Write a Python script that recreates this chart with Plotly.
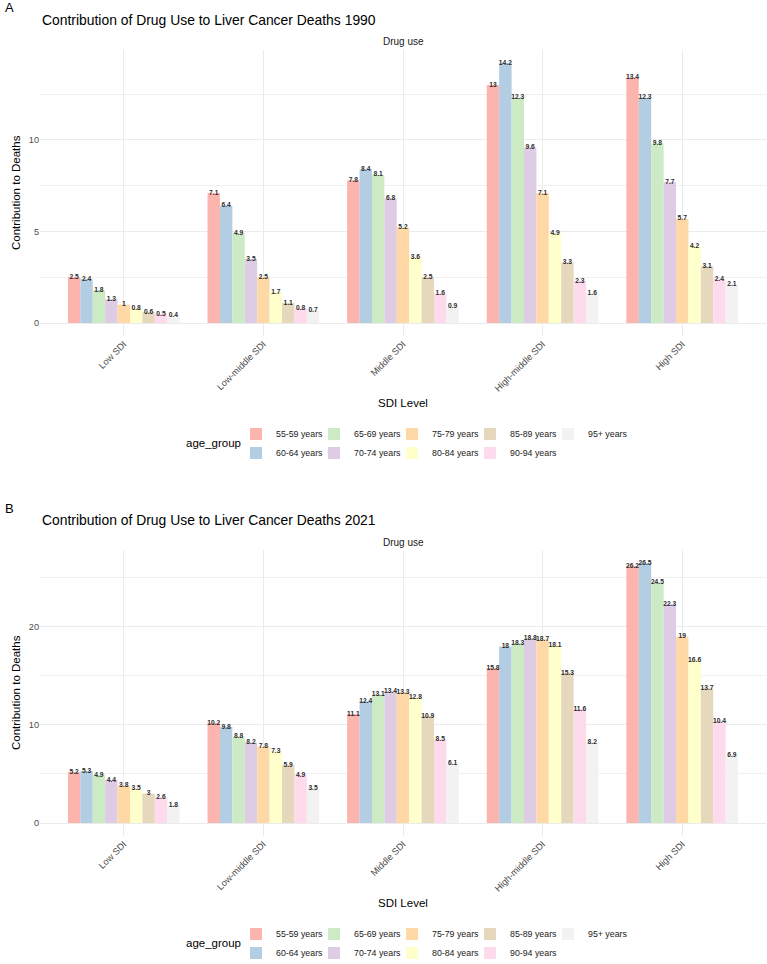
import plotly.graph_objects as go

# ---------------- data ----------------
sdi_levels = ["Low SDI", "Low-middle SDI", "Middle SDI", "High-middle SDI", "High SDI"]
age_groups = ["55-59 years", "60-64 years", "65-69 years", "70-74 years", "75-79 years",
              "80-84 years", "85-89 years", "90-94 years", "95+ years"]
age_colors = ["#FBB4AE", "#B3CDE3", "#CCEBC5", "#DECBE4", "#FED9A6",
              "#FFFFCC", "#E5D8BD", "#FDDAEC", "#F2F2F2"]

# values per SDI level, ordered by age group
low_1990 = [2.5, 2.4, 1.8, 1.3, 1.0, 0.8, 0.6, 0.5, 0.4]
lowmid_1990 = [7.1, 6.4, 4.9, 3.5, 2.5, 1.7, 1.1, 0.8, 0.7]
mid_1990 = [7.8, 8.4, 8.1, 6.8, 5.2, 3.6, 2.5, 1.6, 0.9]
highmid_1990 = [13.0, 14.2, 12.3, 9.6, 7.1, 4.9, 3.3, 2.3, 1.6]
high_1990 = [13.4, 12.3, 9.8, 7.7, 5.7, 4.2, 3.1, 2.4, 2.1]

low_2021 = [5.2, 5.3, 4.9, 4.4, 3.8, 3.5, 3.0, 2.6, 1.8]
lowmid_2021 = [10.2, 9.8, 8.8, 8.2, 7.8, 7.3, 5.9, 4.9, 3.5]
mid_2021 = [11.1, 12.4, 13.1, 13.4, 13.3, 12.8, 10.9, 8.5, 6.1]
highmid_2021 = [15.8, 18.0, 18.3, 18.8, 18.7, 18.1, 15.3, 11.6, 8.2]
high_2021 = [26.2, 26.5, 24.5, 22.3, 19.0, 16.6, 13.7, 10.4, 6.9]

y_ticks_1990 = [0, 5, 10]
y_minor_1990 = [2.5, 7.5, 12.5]
y_ticks_2021 = [0, 10, 20]
y_minor_2021 = [5, 15, 25]

panels = [
    dict(year="1990", tag="A", rows=[low_1990, lowmid_1990, mid_1990, highmid_1990, high_1990],
         ticks=y_ticks_1990, minor=y_minor_1990),
    dict(year="2021", tag="B", rows=[low_2021, lowmid_2021, mid_2021, highmid_2021, high_2021],
         ticks=y_ticks_2021, minor=y_minor_2021),
]

# ---------------- layout helpers ----------------
W, H = 767, 964
ML, MR = 40, 1
PW = W - ML - MR
FONT = "Liberation Sans, Arial, sans-serif"


def px_x(px):
    return (px - ML) / PW


def px_y(py):
    return 1 - py / H


fig = go.Figure()
annotations = []

for p_i, pan in enumerate(panels):
    off = 500 * p_i
    xa = "x" if p_i == 0 else "x2"
    ya = "y" if p_i == 0 else "y2"
    leg_a = "legend" if p_i == 0 else "legend3"
    leg_b = "legend2" if p_i == 0 else "legend4"
    vmax = max(max(r) for r in pan["rows"])
    for a_i, age in enumerate(age_groups):
        vals = [row[a_i] for row in pan["rows"]]
        last_in_row = a_i >= len(age_groups) - 2
        fig.add_trace(go.Bar(
            x=sdi_levels, y=vals, name=age,
            marker=dict(color=age_colors[a_i], line=dict(width=0)),
            xaxis=xa, yaxis=ya,
            legend=leg_a if a_i % 2 == 0 else leg_b,
            legendwidth=60 if last_in_row else 33,
            showlegend=True, hoverinfo="x+y+name",
        ))
    for a_i, age in enumerate(age_groups):
        vals = [row[a_i] for row in pan["rows"]]
        fig.add_trace(go.Scatter(
            x=sdi_levels, y=vals, mode="text",
            text=[f"{v:g}" for v in vals],
            textposition="middle center",
            textfont=dict(size=6.7, color="#2B2B2B", family=FONT, weight="bold"),
            orientation="v", alignmentgroup="lab" + pan["tag"],
            xaxis=xa, yaxis=ya, showlegend=False, cliponaxis=False, hoverinfo="skip",
        ))

    top_px, bot_px = 50 + off, 336 + off
    pad = 0.05 * vmax
    axis_common = dict(showline=False, zeroline=False, ticks="", fixedrange=True)
    fig.update_layout(**{
        ("xaxis" if p_i == 0 else "xaxis2"): dict(
            domain=[0, 1], anchor=ya, type="category",
            categoryorder="array", categoryarray=sdi_levels,
            range=[-0.6, len(sdi_levels) - 0.4],
            showgrid=True, gridcolor="#EBEBEB", gridwidth=1,
            tickangle=-45, tickfont=dict(size=9.2, color="#4D4D4D", family=FONT),
            **axis_common),
        ("yaxis" if p_i == 0 else "yaxis2"): dict(
            domain=[px_y(bot_px), px_y(top_px)], anchor=xa,
            range=[-pad, vmax + pad],
            tickmode="array", tickvals=pan["ticks"], ticktext=[str(t) for t in pan["ticks"]],
            showgrid=True, gridcolor="#EBEBEB", gridwidth=1,
            minor=dict(tickvals=pan["minor"], showgrid=True, gridcolor="#F0F0F0", gridwidth=0.6),
            tickfont=dict(size=9.2, color="#4D4D4D", family=FONT),
            **axis_common),
    })

    legend_common = dict(orientation="h", xanchor="left", yanchor="middle",
                         entrywidth=33, entrywidthmode="pixels",
                         font=dict(size=8.8, color="#1A1A1A", family=FONT),
                         bgcolor="rgba(0,0,0,0)", borderwidth=0, tracegroupgap=0)
    fig.update_layout(**{
        leg_a: dict(x=px_x(236), y=px_y(434 + off), **legend_common),
        leg_b: dict(x=px_x(236), y=px_y(453 + off), **legend_common),
    })

    annotations += [
        dict(text=pan["tag"], x=px_x(3), y=px_y(8 + off), xanchor="left", yanchor="middle",
             font=dict(size=13, color="#000000")),
        dict(text=f"Contribution of Drug Use to Liver Cancer Deaths {pan['year']}",
             x=px_x(40), y=px_y(20 + off), xanchor="left", yanchor="middle",
             font=dict(size=13.9, color="#000000")),
        dict(text="Drug use", x=0.5, y=px_y(42 + off), xanchor="center", yanchor="middle",
             font=dict(size=10, color="#1A1A1A")),
        dict(text="SDI Level", x=0.5, y=px_y(403 + off), xanchor="center", yanchor="middle",
             font=dict(size=11.5, color="#000000")),
        dict(text="Contribution to Deaths", x=px_x(16), y=px_y((top_px + bot_px) / 2),
             xanchor="center", yanchor="middle", textangle=-90,
             font=dict(size=11.5, color="#000000")),
        dict(text="age_group", x=px_x(243), y=px_y(443 + off), xanchor="right", yanchor="middle",
             font=dict(size=11.5, color="#000000")),
    ]

for a in annotations:
    a.update(xref="paper", yref="paper", showarrow=False)
    a["font"]["family"] = FONT

fig.update_layout(
    width=W, height=H, margin=dict(l=ML, r=MR, t=0, b=0, autoexpand=False),
    plot_bgcolor="white", paper_bgcolor="white",
    barmode="group", bargap=0.2, bargroupgap=0,
    scattermode="group", scattergap=0.2,
    font=dict(family=FONT),
    annotations=annotations,
)

fig.write_html("out.html")
